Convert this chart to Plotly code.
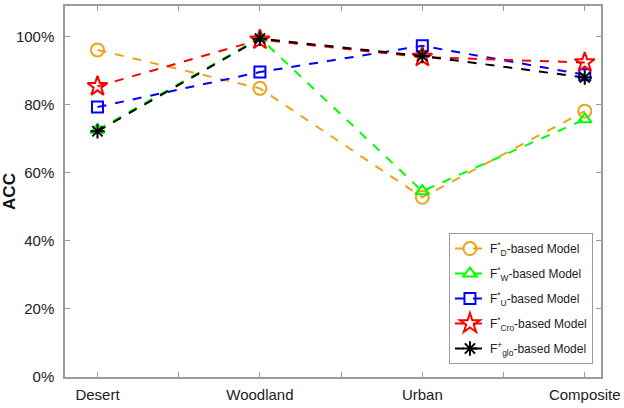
import plotly.graph_objs as go

categories = ["Desert", "Woodland", "Urban", "Composite"]

acc_d = [96.1, 84.8, 52.8, 78.1]
acc_w = [72.6, 99.6, 54.6, 75.7]
acc_u = [79.3, 89.6, 97.3, 88.8]
acc_cro = [85.4, 99.1, 94.0, 92.4]
acc_glo = [72.2, 99.4, 94.3, 88.0]

y_ticks = [0, 20, 40, 60, 80, 100]

names = [
    "F<sup>*</sup><sub>D</sub>-based Model",
    "F<sup>*</sup><sub>W</sub>-based Model",
    "F<sup>*</sup><sub>U</sub>-based Model",
    "F<sup>*</sup><sub>Cro</sub>-based Model",
    "F<sup>+</sup><sub>glo</sub>-based Model",
]
colors = ["#EDA317", "#00FF00", "#0000FF", "#FF0000", "#000000"]
symbols = ["circle-open", "triangle-up-open", "square-open", "star-open", "asterisk-open"]
sizes = [13, 12, 11, 15, 12]

x = list(range(1, len(categories) + 1))
series = [acc_d, acc_w, acc_u, acc_cro, acc_glo]

fig = go.Figure()
for i, (vals, name, col, sym, sz) in enumerate(zip(series, names, colors, symbols, sizes)):
    fig.add_trace(go.Scatter(
        x=x, y=vals, name=name, mode="lines+markers", legendgroup=str(i),
        line=dict(color=col, width=2, dash="dash"),
        marker=dict(symbol=sym, size=sz, color=col, line=dict(color=col, width=2)),
    ))

# half-step ticks like the original, labels only on categories
xtickvals = [1 + 0.5 * i for i in range(2 * len(categories) - 1)]
xticktext = [categories[i // 2] if i % 2 == 0 else "" for i in range(len(xtickvals))]

axis_style = dict(
    showline=True, linecolor="#9a9a9a", linewidth=1.5, mirror="ticks",
    ticks="inside", ticklen=5, tickcolor="#9a9a9a", showgrid=False, zeroline=False,
    tickfont=dict(family="Liberation Sans, Arial", size=15, color="#222"),
)

fig.update_layout(
    width=624, height=408,
    margin=dict(l=57, r=22, t=4, b=31),
    plot_bgcolor="white", paper_bgcolor="white",
    showlegend=True,
    legend=dict(
        x=0.985, y=0.035, xanchor="right", yanchor="bottom",
        bordercolor="#9a9a9a", borderwidth=1, bgcolor="white",
        font=dict(family="Liberation Sans, Arial", size=12, color="#222"),
        tracegroupgap=6, itemwidth=30,
    ),
    xaxis=dict(axis_style, range=[0.8, 4.1], tickvals=xtickvals, ticktext=xticktext,
               ticklabelstandoff=3),
    yaxis=dict(
        axis_style, range=[0, 109], tickvals=y_ticks,
        ticktext=[f"{v}%" for v in y_ticks], ticklabelstandoff=6,
        title=dict(text="<b>ACC</b>", standoff=0,
                   font=dict(family="Liberation Sans, Arial", size=17, color="#111")),
    ),
)

fig.write_html("out.html", config={"displayModeBar": False},
               post_script="document.body.style.margin='0px';")
